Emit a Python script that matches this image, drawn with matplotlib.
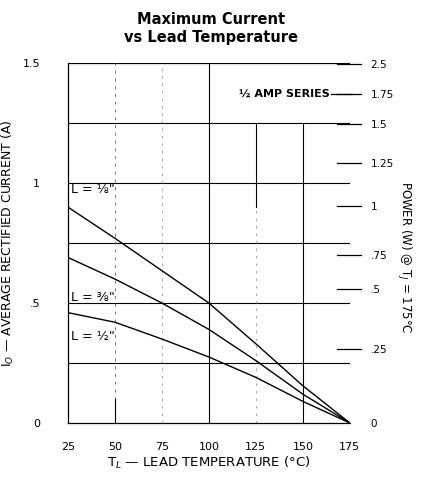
import matplotlib
matplotlib.use("Agg")
import matplotlib.pyplot as plt
import numpy as np

temps = [25, 50, 75, 100, 125, 150, 175]
cur_eighth = [0.90, 0.77, 0.635, 0.50, 0.33, 0.155, 0.0]
cur_3eighth = [0.69, 0.60, 0.50, 0.39, 0.26, 0.12, 0.0]
cur_half = [0.46, 0.42, 0.35, 0.275, 0.19, 0.09, 0.0]

x_ticks = [25, 50, 75, 100, 125, 150, 175]
x_tick_labels = ["25", "50", "75", "100", "125", "150", "175"]
y_ticks = [0, 0.5, 1.0, 1.5]
y_tick_labels = ["0", ".5", "1", "1.5"]
power_pos = [0.0, 0.308, 0.558, 0.70, 0.904, 1.083, 1.246, 1.371, 1.496]
power_labels = ["0", ".25", ".5", ".75", "1", "1.25", "1.5", "1.75", "2.5"]

plt.rcParams['font.family'] = ['DejaVu Sans']
fig = plt.figure(figsize=(4.22, 4.79), dpi=100)
ax = fig.add_axes([0.161, 0.117, 0.668, 0.751])
ax.set_xlim(25, 175)
ax.set_ylim(0, 1.5)

for s in ['top', 'right']:
    ax.spines[s].set_visible(False)
ax.spines['left'].set_linewidth(0.9)
ax.spines['bottom'].set_linewidth(0.9)

# horizontal grid
for yv in [0.25, 0.5, 0.75, 1.0, 1.25]:
    ax.plot([25, 175], [yv, yv], color='black', lw=0.8, zorder=1)
ax.plot([25, 175], [1.5, 1.5], color='black', lw=0.9, zorder=1)
# right border (faint dotted)
ax.plot([175, 175], [0, 1.5], color='#777777', lw=0.7, ls=(0, (2, 2)), zorder=1)
# vertical grid
ax.plot([100, 100], [0, 1.5], color='black', lw=0.8, zorder=1)
ax.plot([150, 150], [0, 1.25], color='black', lw=0.8, zorder=1)
ax.plot([125, 125], [0.9, 1.25], color='black', lw=0.8, zorder=1)
ax.plot([125, 125], [0, 0.9], color='#999999', lw=0.6, ls=(0, (3, 6)), zorder=1)
ax.plot([50, 50], [0, 1.5], color='#777777', lw=0.7, ls=(0, (3, 5)), zorder=1)
ax.plot([50, 50], [0, 0.1], color='black', lw=0.8, zorder=1)
ax.plot([75, 75], [0, 1.5], color='#999999', lw=0.6, ls=(0, (3, 6)), zorder=1)

# curves
for ys in [cur_eighth, cur_3eighth, cur_half]:
    ax.plot(temps, ys, color='black', lw=1.0, zorder=3)

ax.text(26.5, 0.975, 'L = \u215b"', fontsize=9, ha='left', va='center')
ax.text(26.5, 0.525, 'L = \u215c"', fontsize=9, ha='left', va='center')
ax.text(26.5, 0.36, 'L = \u00bd"', fontsize=9, ha='left', va='center')

ax.set_xticks(x_ticks)
ax.set_xticklabels(x_tick_labels, fontsize=8)
ax.set_yticks(y_ticks)
ax.set_yticklabels(y_tick_labels, fontsize=8)
ax.tick_params(axis='both', length=0)
ax.tick_params(axis='y', pad=20)
ax.tick_params(axis='x', pad=14)

# right power axis
ax2 = ax.twinx()
ax2.set_ylim(0, 1.5)
for s in ['top', 'left', 'bottom', 'right']:
    ax2.spines[s].set_visible(False)
ax2.set_yticks(power_pos)
ax2.set_yticklabels(power_labels, fontsize=7.5)
ax2.tick_params(axis='y', length=0, pad=15)
for p in power_pos[1:]:
    ax.plot([168, 181], [p, p], color='black', lw=0.9, clip_on=False, zorder=2)

ax.text(164.5, 1.371, '\u00bd AMP SERIES', fontsize=8, fontweight='bold', ha='right', va='center')
ax.plot([165, 176], [1.371, 1.371], color='black', lw=0.9, clip_on=False)

ax.set_xlabel('T$_L$ — LEAD TEMPERATURE (°C)', fontsize=9.5, labelpad=2)
ax.set_ylabel('I$_O$ — AVERAGE RECTIFIED CURRENT (A)', fontsize=9, labelpad=5)
ax2.set_ylabel('POWER (W) @ T$_J$ = 175°C', fontsize=8.5, rotation=-90)
ax2.yaxis.set_label_coords(1.225, 0.46)

fig.suptitle('Maximum Current\nvs Lead Temperature', fontsize=10.5, fontweight='bold', y=0.975, x=0.5, linespacing=1.25)

fig.savefig('out.png', dpi=100)
